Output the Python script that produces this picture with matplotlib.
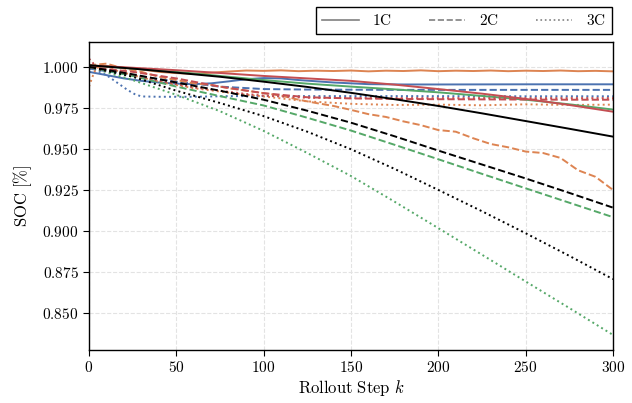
import matplotlib
matplotlib.use("Agg")
import matplotlib.pyplot as plt
from matplotlib.ticker import FuncFormatter
from matplotlib.lines import Line2D

plt.rcParams['mathtext.fontset'] = 'cm'
plt.rcParams['font.family'] = 'DejaVu Serif'
plt.rcParams['font.size'] = 11

# rollout steps shared by the smooth curves
k_coarse = [0, 25, 50, 75, 100, 125, 150, 175, 200, 225, 250, 275, 300]
k_10 = list(range(0, 301, 10))

black_1c = [1.001, 0.9990, 0.9965, 0.9940, 0.9910, 0.9878, 0.9842, 0.9803, 0.9762, 0.9717, 0.9670, 0.9623, 0.9575]
black_2c = [1.000, 0.9955, 0.9905, 0.9855, 0.9800, 0.9733, 0.9660, 0.9577, 0.9490, 0.9405, 0.9320, 0.9232, 0.9142]
black_3c = [1.000, 0.9940, 0.9855, 0.9780, 0.9700, 0.9605, 0.9498, 0.9378, 0.9250, 0.9120, 0.8986, 0.8848, 0.8706]

green_1c = [1.001, 0.9990, 0.9970, 0.9945, 0.9920, 0.9898, 0.9880, 0.9863, 0.9845, 0.9823, 0.9800, 0.9772, 0.9740]
green_2c = [1.000, 0.9945, 0.9880, 0.9822, 0.9765, 0.9690, 0.9612, 0.9525, 0.9437, 0.9348, 0.9260, 0.9172, 0.9084]
green_3c = [1.000, 0.9920, 0.9830, 0.9730, 0.9610, 0.9475, 0.9335, 0.9178, 0.9017, 0.8855, 0.8692, 0.8530, 0.8366]

red_1c = [1.001, 0.9995, 0.9980, 0.9963, 0.9945, 0.9930, 0.9915, 0.9892, 0.9865, 0.9837, 0.9805, 0.9768, 0.9727]
red_2c = [1.000, 0.9970, 0.9930, 0.9880, 0.9840, 0.9815, 0.9808, 0.9805, 0.9803, 0.9802, 0.9801, 0.9800, 0.9800]
red_3c_k = [0, 2, 4, 8, 15, 25, 40, 50, 60, 75, 90, 100, 125, 150, 200, 250, 300]
red_3c = [1.005, 1.003, 0.999, 0.998, 0.9975, 0.995, 0.9915, 0.9895, 0.9875, 0.9855, 0.9835, 0.9825,
          0.9812, 0.9810, 0.9810, 0.9810, 0.9810]

blue_1c_k = [0, 10, 20, 30, 40, 50, 60, 70, 80, 90, 100, 110, 120, 140, 160, 180, 200, 250, 300]
blue_1c = [0.997, 0.995, 0.993, 0.9915, 0.9905, 0.9898, 0.9895, 0.9900, 0.9912, 0.9925, 0.9932, 0.9930,
           0.9920, 0.9905, 0.9895, 0.9893, 0.9893, 0.9894, 0.9894]
blue_2c = [0.999, 0.9950, 0.9910, 0.9880, 0.9865, 0.9862, 0.9861, 0.9860, 0.9860, 0.9860, 0.9860, 0.9860, 0.9860]
blue_3c_k = [0, 3, 6, 10, 14, 18, 22, 26, 30, 40, 50, 60, 70, 80, 100, 150, 200, 250, 300]
blue_3c = [0.999, 0.9985, 0.997, 0.995, 0.992, 0.989, 0.986, 0.9835, 0.982, 0.9818, 0.9818, 0.9818,
           0.982, 0.9822, 0.9822, 0.9822, 0.9822, 0.9821, 0.9821]

orange_1c = [1.000, 1.0005, 0.9995, 0.9985, 0.997, 0.9962, 0.9958, 0.9965, 0.9972, 0.9978, 0.9976,
             0.9979, 0.9974, 0.9977, 0.9975, 0.9978, 0.9973, 0.9977, 0.9975, 0.9979, 0.9974, 0.9977,
             0.9975, 0.9978, 0.9974, 0.9977, 0.9975, 0.9978, 0.9974, 0.9976, 0.9973]
orange_2c = [1.001, 1.002, 0.999, 0.997, 0.994, 0.992, 0.990, 0.989, 0.987, 0.9855, 0.984, 0.9825,
             0.980, 0.978, 0.9762, 0.9738, 0.9712, 0.9695, 0.9668, 0.9645, 0.9615, 0.9605, 0.9565,
             0.953, 0.951, 0.9484, 0.9475, 0.9445, 0.937, 0.933, 0.925]
orange_3c_k = [0, 2, 4, 8, 15, 25, 40, 50, 60, 75, 90, 100, 125, 150, 175, 200, 225, 250, 275, 300]
orange_3c = [0.988, 0.994, 0.999, 1.001, 0.998, 0.995, 0.991, 0.989, 0.987, 0.985, 0.983, 0.982,
             0.979, 0.9775, 0.9768, 0.977, 0.9766, 0.9772, 0.9768, 0.977]

blue = '#4C72B0'
orange = '#DD8452'
green = '#55A868'
red = '#C44E52'

fig = plt.figure(figsize=(6.32, 4.03), dpi=100)
ax = fig.add_axes([0.1408, 0.1315, 0.8291, 0.7643])

lw = 1.4
ax.plot(blue_1c_k, blue_1c, color=blue, lw=lw, ls='-')
ax.plot(k_coarse, blue_2c, color=blue, lw=lw, ls='--')
ax.plot(blue_3c_k, blue_3c, color=blue, lw=lw, ls=':')
ax.plot(k_10, orange_1c, color=orange, lw=lw, ls='-')
ax.plot(k_10, orange_2c, color=orange, lw=lw, ls='--')
ax.plot(orange_3c_k, orange_3c, color=orange, lw=lw, ls=':')
ax.plot(k_coarse, green_1c, color=green, lw=lw, ls='-')
ax.plot(k_coarse, green_2c, color=green, lw=lw, ls='--')
ax.plot(k_coarse, green_3c, color=green, lw=lw, ls=':')
ax.plot(k_coarse, red_1c, color=red, lw=lw, ls='-')
ax.plot(k_coarse, red_2c, color=red, lw=lw, ls='--')
ax.plot(red_3c_k, red_3c, color=red, lw=lw, ls=':')
ax.plot(k_coarse, black_1c, color='black', lw=lw, ls='-')
ax.plot(k_coarse, black_2c, color='black', lw=lw, ls='--')
ax.plot(k_coarse, black_3c, color='black', lw=lw, ls=':')

ax.set_xlim(0, 300)
ax.set_ylim(0.8274, 1.0152)
ax.set_xticks([0, 50, 100, 150, 200, 250, 300])
ax.set_yticks([0.850, 0.875, 0.900, 0.925, 0.950, 0.975, 1.000])
ax.xaxis.set_major_formatter(FuncFormatter(lambda v, p: f'${v:.0f}$'))
ax.yaxis.set_major_formatter(FuncFormatter(lambda v, p: f'${v:.3f}$'))
ax.tick_params(direction='out', length=4, width=0.8, labelsize=11)
ax.grid(True, color='#e3e3e3', ls='--', lw=0.8)
ax.set_axisbelow(True)
for s in ax.spines.values():
    s.set_linewidth(1.0)

ax.set_xlabel(r'$\mathrm{Rollout\ Step}\ k$', fontsize=12, labelpad=2)
ax.set_ylabel(r'$\mathrm{SOC\ [\%]}$', fontsize=12, labelpad=6)

handles = [Line2D([], [], color='gray', lw=1.2, ls=s) for s in ['-', '--', ':']]
leg = ax.legend(handles, [r'$\mathrm{1C}$', r'$\mathrm{2C}$', r'$\mathrm{3C}$'],
                loc='lower left', bbox_to_anchor=(0.433, 1.026, 0.565, 0.094), mode='expand',
                ncol=3, fancybox=False, framealpha=1, edgecolor='black', handlelength=2.4,
                handletextpad=0.9, borderaxespad=0, fontsize=11)
leg.get_frame().set_linewidth(1.0)

fig.savefig('out.png', dpi=100)
